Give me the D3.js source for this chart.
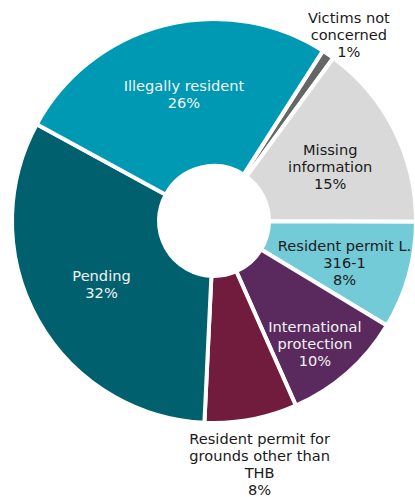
<!DOCTYPE html>
<html>
<head>
<meta charset="utf-8">
<script src="https://cdn.jsdelivr.net/npm/d3@7/dist/d3.min.js"></script>
<style>
  html, body { margin: 0; padding: 0; background: #fff; }
  svg { display: block; }
</style>
</head>
<body>
<svg id="chart" width="415" height="497"></svg>
<script>
const categories = [
  "Victims not concerned",
  "Missing information",
  "Resident permit L. 316-1",
  "International protection",
  "Resident permit for grounds other than THB",
  "Pending",
  "Illegally resident"
];
const values = [1.0, 15.0, 8.6, 9.7, 7.4, 32.2, 26.1];
const percentLabels = ["1%", "15%", "8%", "10%", "8%", "32%", "26%"];

// ---- styling / layout (not data) ----
const colors = ["#666666", "#d9d9d9", "#74cbd8", "#5a2a5f", "#721c3d", "#01606e", "#0099b3"];
const textColors = ["#1a1a1a", "#1a1a1a", "#1a1a1a", "#f2f2f2", "#1a1a1a", "#f2f2f2", "#f2f2f2"];
const labelLines = [
  ["Victims not", "concerned"],
  ["Missing", "information"],
  ["Resident permit L.", "316-1"],
  ["International", "protection"],
  ["Resident permit for", "grounds other than", "THB"],
  ["Pending"],
  ["Illegally resident"]
];
const labelRadius = [230, 128, 137, 159, 248, 129, 130];
const labelAngleShift = [1.5, 2, 2, 2, 0, 0, 1]; // degrees

const W = 415, H = 497;
const cx = 214, cy = 221;
const outerR = 202, innerR = 55;
const startDeg = 32.6;
const fontSize = 14.6, lineH = 17;

const svg = d3.select("#chart");
const g = svg.append("g").attr("transform", `translate(${cx},${cy})`);

const data = categories.map((c, i) => ({ cat: c, value: values[i], i }));

const pie = d3.pie()
  .value(d => d.value)
  .sort(null)
  .startAngle(startDeg * Math.PI / 180)
  .endAngle(startDeg * Math.PI / 180 + 2 * Math.PI);

const arcs = pie(data);
const arc = d3.arc().innerRadius(innerR).outerRadius(outerR);

g.selectAll("path.slice")
  .data(arcs)
  .join("path")
  .attr("class", "slice")
  .attr("d", arc)
  .attr("fill", d => colors[d.data.i])
  .attr("stroke", "#ffffff")
  .attr("stroke-width", 4)
  .attr("stroke-linejoin", "miter");

const labels = g.selectAll("text.lbl")
  .data(arcs)
  .join("text")
  .attr("class", "lbl")
  .attr("font-family", "'DejaVu Sans', Verdana, sans-serif")
  .attr("font-size", fontSize)
  .attr("fill", d => textColors[d.data.i])
  .attr("text-anchor", "middle");

labels.each(function(d) {
  const i = d.data.i;
  const mid = (d.startAngle + d.endAngle) / 2 + labelAngleShift[i] * Math.PI / 180;
  const r = labelRadius[i];
  const x = Math.sin(mid) * r;
  const y = -Math.cos(mid) * r;
  const lines = labelLines[i].concat([percentLabels[i]]);
  const first = y - (lines.length - 1) * lineH / 2 + 5;
  const t = d3.select(this);
  lines.forEach((ln, k) => {
    t.append("tspan").attr("x", x).attr("y", first + k * lineH).text(ln);
  });
});
</script>
</body>
</html>
